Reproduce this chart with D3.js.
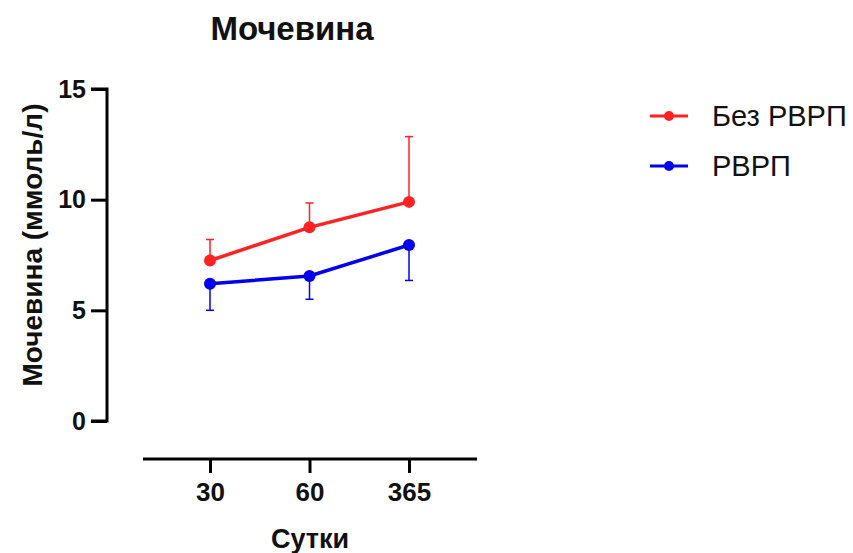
<!DOCTYPE html>
<html>
<head>
<meta charset="utf-8">
<script src="https://cdn.jsdelivr.net/npm/d3@7"></script>
<style>
  body { margin: 0; background: #fff; }
  text { font-family: "Liberation Sans", Arial, sans-serif; }
</style>
</head>
<body>
<div class="chart"></div>
<script>
(function() {
  var days = ["30", "60", "365"];
  var seriesNames = ["Без РВРП", "РВРП"];
  var bezMean = [7.25, 8.75, 9.9];
  var bezErr = [0.95, 1.1, 2.95];
  var rvrpMean = [6.2, 6.55, 7.95];
  var rvrpErr = [1.2, 1.05, 1.6];
  var yTicks = [0, 5, 10, 15];

  var width = 853, height = 553;
  var svg = d3.select(".chart").append("svg")
    .attr("width", width)
    .attr("height", height);

  var x = d3.scalePoint().domain(days).range([210, 409]);
  var y = d3.scaleLinear().domain([0, 15]).range([421, 89]);

  var series = [
    {name: seriesNames[0], color: "#f22", mean: bezMean, err: bezErr, dir: 1},
    {name: seriesNames[1], color: "#0000ee", mean: rvrpMean, err: rvrpErr, dir: -1}
  ];

  // y axis
  var yAxis = svg.append("g")
    .attr("transform", "translate(107,0)")
    .call(d3.axisLeft(y).tickValues(yTicks).tickSize(16).tickPadding(5));
  yAxis.select(".domain").attr("stroke-width", 3).attr("d", "M-16," + y(15) + "H0V" + y(0) + "H-16");
  yAxis.selectAll(".tick line").attr("stroke-width", 3);
  yAxis.selectAll(".tick text")
    .attr("font-size", 25).attr("font-weight", "bold").attr("fill", "#111");

  // x axis (detached)
  var xAxis = svg.append("g")
    .attr("transform", "translate(0,459)")
    .call(d3.axisBottom(x).tickSize(14).tickPadding(10));
  xAxis.select(".domain").attr("stroke-width", 3).attr("d", "M143,0H477");
  xAxis.selectAll(".tick line").attr("stroke-width", 3);
  xAxis.selectAll(".tick text")
    .attr("font-size", 26).attr("font-weight", "bold").attr("fill", "#111");

  // titles
  svg.append("text")
    .attr("x", 292).attr("y", 40)
    .attr("text-anchor", "middle")
    .attr("font-size", 33).attr("font-weight", "bold")
    .attr("fill", "#111")
    .text("Мочевина");
  svg.append("text")
    .attr("x", 310).attr("y", 548)
    .attr("text-anchor", "middle")
    .attr("font-size", 27).attr("font-weight", "bold")
    .attr("fill", "#111")
    .text("Сутки");
  svg.append("text")
    .attr("transform", "translate(42," + 245 + ") rotate(-90)")
    .attr("text-anchor", "middle")
    .attr("font-size", 28).attr("font-weight", "bold")
    .attr("fill", "#111")
    .text("Мочевина (ммоль/л)");

  var line = d3.line()
    .x(function(d, i) { return x(days[i]); })
    .y(function(d) { return y(d); });

  series.forEach(function(s) {
    var g = svg.append("g");
    // error bars, one side only
    s.mean.forEach(function(m, i) {
      var end = y(m + s.dir * s.err[i]);
      g.append("line")
        .attr("x1", x(days[i])).attr("x2", x(days[i]))
        .attr("y1", y(m)).attr("y2", end)
        .attr("stroke", s.color).attr("stroke-width", 1.5);
      g.append("line")
        .attr("x1", x(days[i]) - 4).attr("x2", x(days[i]) + 4)
        .attr("y1", end).attr("y2", end)
        .attr("stroke", s.color).attr("stroke-width", 1.5);
    });
    g.append("path")
      .attr("d", line(s.mean))
      .attr("fill", "none")
      .attr("stroke", s.color)
      .attr("stroke-width", 3.5);
    g.selectAll("circle")
      .data(s.mean)
      .enter().append("circle")
      .attr("cx", function(d, i) { return x(days[i]); })
      .attr("cy", function(d) { return y(d); })
      .attr("r", 6)
      .attr("fill", s.color);
  });

  // legend
  var lg = svg.append("g").selectAll("g")
    .data(series)
    .enter().append("g")
    .attr("transform", function(d, i) { return "translate(0," + (116 + i * 50) + ")"; });
  lg.append("line")
    .attr("x1", 650).attr("x2", 688)
    .attr("stroke", function(d) { return d.color; })
    .attr("stroke-width", 3);
  lg.append("circle")
    .attr("cx", 669).attr("r", 5)
    .attr("fill", function(d) { return d.color; });
  lg.append("text")
    .attr("x", 712).attr("dy", "0.35em")
    .attr("font-size", 29)
    .attr("fill", "#111")
    .text(function(d) { return d.name; });
})();
</script>
</body>
</html>
